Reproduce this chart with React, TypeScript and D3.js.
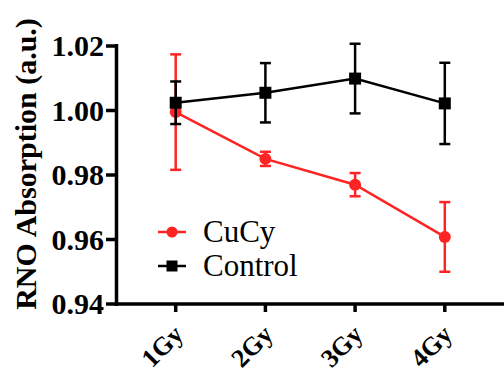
import * as d3 from "d3";

const doses = ["1Gy", "2Gy", "3Gy", "4Gy"];
const cucyMean = [0.9995, 0.985, 0.977, 0.9608];
const cucyErr = [0.0179, 0.0022, 0.0036, 0.0108];
const controlMean = [1.0024, 1.0055, 1.0099, 1.0022];
const controlErr = [0.0066, 0.0092, 0.0108, 0.0126];
const yTicks = [0.94, 0.96, 0.98, 1.0, 1.02];

const RED = "#ff2424";
const BLACK = "#000";
const W = 504;
const H = 377;
const FONT = "Liberation Serif";

export default function App() {
  const x = d3.scalePoint<string>().domain(doses).range([116.5, 504]).padding(0.66);
  const y = d3.scaleLinear().domain([0.94, 1.02]).range([304, 46]);
  const line = d3.line<number>().x((_, i) => x(doses[i]) ?? 0).y((d) => y(d));

  const series = [
    { name: "CuCy", mean: cucyMean, err: cucyErr, color: RED, shape: "circle" },
    { name: "Control", mean: controlMean, err: controlErr, color: BLACK, shape: "square" },
  ];

  const marker = (shape: string, cx: number, cy: number, color: string, s: number) =>
    shape === "circle" ? (
      <circle cx={cx} cy={cy} r={s / 2} fill={color} />
    ) : (
      <rect x={cx - s / 2} y={cy - s / 2} width={s} height={s} fill={color} />
    );

  return (
    <div style={{ position: "fixed", left: 0, top: 0, width: W, height: H, background: "#fff" }}>
      <svg width={W} height={H}>
        <style>{`text { font-family: "Liberation Serif", "Times New Roman", Tinos, serif; }`}</style>
        {/* axes */}
        <line x1={116.5} x2={116.5} y1={44} y2={306} stroke={BLACK} strokeWidth={3.5} />
        <line x1={114.75} x2={504} y1={304} y2={304} stroke={BLACK} strokeWidth={3.5} />
        {yTicks.map((t) => (
          <line key={t} x1={106} x2={116.5} y1={y(t)} y2={y(t)} stroke={BLACK} strokeWidth={3.5} />
        ))}
        {yTicks.map((t) => (
          <text key={t} x={104} y={y(t) + 10} textAnchor="end" fontSize={30} fontWeight="bold" fontFamily={FONT}>
            {t.toFixed(2)}
          </text>
        ))}
        {doses.map((d) => (
          <line key={d} x1={x(d)} x2={x(d)} y1={304} y2={312} stroke={BLACK} strokeWidth={3.5} />
        ))}
        {doses.map((d) => (
          <text
            key={d}
            transform={`translate(${(x(d) ?? 0) + 9},${336}) rotate(-45)`}
            textAnchor="end"
            fontSize={26}
            fontWeight="bold"
            fontFamily={FONT}
          >
            {d}
          </text>
        ))}
        <text
          transform="translate(36,164) rotate(-90)"
          textAnchor="middle"
          fontSize={30}
          fontWeight="bold"
          fontFamily={FONT}
        >
          RNO Absorption (a.u.)
        </text>

        {/* series */}
        {series.map((s) => (
          <g key={s.name}>
            <path d={line(s.mean) ?? ""} fill="none" stroke={s.color} strokeWidth={2.5} />
            {s.mean.map((m, i) => {
              const cx = x(doses[i]) ?? 0;
              const top = y(m + s.err[i]);
              const bot = y(m - s.err[i]);
              return (
                <g key={i}>
                  <line x1={cx} x2={cx} y1={top} y2={bot} stroke={s.color} strokeWidth={2.5} />
                  <line x1={cx - 5.5} x2={cx + 5.5} y1={top} y2={top} stroke={s.color} strokeWidth={2.5} />
                  <line x1={cx - 5.5} x2={cx + 5.5} y1={bot} y2={bot} stroke={s.color} strokeWidth={2.5} />
                  {marker(s.shape, cx, y(m), s.color, 12)}
                </g>
              );
            })}
          </g>
        ))}

        {/* legend */}
        {series.map((s, i) => {
          const ly = 232 + i * 34;
          return (
            <g key={s.name}>
              <line x1={158} x2={186} y1={ly} y2={ly} stroke={s.color} strokeWidth={2.5} />
              {marker(s.shape, 172, ly, s.color, 11)}
              <text x={203} y={ly + 10} fontSize={31} fontFamily={FONT}>
                {s.name}
              </text>
            </g>
          );
        })}
      </svg>
    </div>
  );
}
